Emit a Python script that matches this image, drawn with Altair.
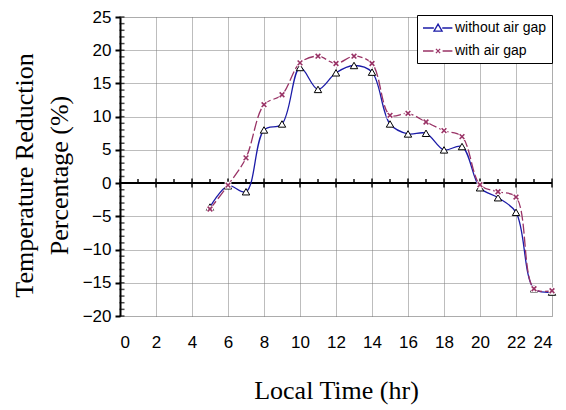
import altair as alt
import pandas as pd

hours = list(range(5, 25))
without_gap = [-3.6, -0.4, -1.3, 8.0, 8.9, 17.4, 14.1, 16.6, 17.7, 16.7, 8.9, 7.4, 7.5, 5.0, 5.5, -0.7, -2.2, -4.4, -15.9, -16.4]
with_gap = [-3.9, -0.3, 3.8, 11.8, 13.3, 18.1, 19.1, 18.0, 19.1, 18.0, 10.2, 10.5, 9.2, 7.9, 7.0, -0.25, -1.3, -2.1, -15.9, -16.2]
series_names = ["without air gap", "with air gap"]
series_colors = ["#1c1ca8", "#993366"]
x_ticks = list(range(0, 25, 2))
x_minor = list(range(1, 24, 2))
y_ticks = list(range(-20, 26, 5))
y_minor = list(range(-20, 26, 1))

rows = []
for h, a, b in zip(hours, without_gap, with_gap):
    rows.append({"hour": h, "value": a, "series": series_names[0], "order": 0})
    rows.append({"hour": h, "value": b, "series": series_names[1], "order": 1})
df = pd.DataFrame(rows)
df_blue = df[df["series"] == series_names[0]]
df_purple = df[df["series"] == series_names[1]]

xs = alt.Scale(domain=[0, 24], nice=False, zero=False)
ys = alt.Scale(domain=[-20, 25], nice=False, zero=False)

x_axis = alt.Axis(values=x_ticks, grid=True, gridColor="#7a7a7a", gridDash=[1, 1], gridWidth=1,
                  domain=False, ticks=False, labelFont="Liberation Sans", labelFontSize=17,
                  labelColor="black", labelPadding=18, title="Local Time (hr)",
                  titleFont="Liberation Serif", titleFontSize=26, titleFontWeight="normal",
                  titleColor="black", titlePadding=27)
y_axis = alt.Axis(values=y_ticks, grid=True, gridColor="#7a7a7a", gridDash=[1, 1], gridWidth=1,
                  domain=True, domainColor="black", domainWidth=2, ticks=True, tickSize=5,
                  tickColor="black", tickWidth=2, labelFont="Liberation Sans", labelFontSize=17,
                  labelColor="black", labelPadding=4,
                  title=["Temperature Reduction", "Percentage (%)"],
                  titleFont="Liberation Serif", titleFontSize=26, titleFontWeight="normal",
                  titleColor="black", titleLineHeight=35, titlePadding=10, titleY=158)

X = alt.X("hour:Q", scale=xs, axis=x_axis)
Y = alt.Y("value:Q", scale=ys, axis=y_axis)

blue_path = "M-1,0L0.55,0M1.75,0L3.2,0M0.57,0.45L1.15,-0.55L1.73,0.45Z"
purple_path = "M-1,0L0.5,0M1.8,0L3.2,0M0.85,-0.3L1.45,0.3M0.85,0.3L1.45,-0.3"
sym_expr = "datum.value == 'without air gap' ? '%s' : '%s'" % (blue_path, purple_path)

legend = alt.Legend(title=None, orient="none", legendX=297, legendY=-2, fillColor="white",
                    strokeColor="black", padding=5, labelFont="Liberation Sans",
                    labelFontSize=14, labelColor="black", symbolSize=196,
                    symbolType=alt.ExprRef(expr=sym_expr), symbolStrokeWidth=1.3,
                    symbolFillColor="white", labelOffset=17, rowPadding=8)

color = alt.Color("series:N", scale=alt.Scale(domain=series_names, range=series_colors), legend=legend)

zero_rule = alt.Chart(pd.DataFrame({"value": [0]})).mark_rule(color="black", strokeWidth=2).encode(y=Y)

df_xmaj = pd.DataFrame({"hour": x_ticks, "value": [0] * len(x_ticks)})
df_xmin = pd.DataFrame({"hour": x_minor, "value": [0] * len(x_minor)})
df_ymin = pd.DataFrame({"hour": [0] * len(y_minor), "value": y_minor})

xmaj = alt.Chart(df_xmaj).mark_tick(orient="vertical", size=9, thickness=2, color="black").encode(x=X, y=Y)
xmin = alt.Chart(df_xmin).mark_tick(orient="vertical", size=4, thickness=2, color="black", yOffset=-2).encode(x=X, y=Y)
ymin = alt.Chart(df_ymin).mark_tick(orient="horizontal", size=5, thickness=1.5, color="black", xOffset=2).encode(x=X, y=Y)

blue_line = alt.Chart(df_blue).mark_line(interpolate="catmull-rom", strokeWidth=1.3).encode(
    x=X, y=Y, color=color, order="hour:Q")
purple_line = alt.Chart(df_purple).mark_line(interpolate="catmull-rom", strokeWidth=1.3, strokeDash=[10, 3]).encode(
    x=X, y=Y, color=color, order="hour:Q")

blue_pts = alt.Chart(df_blue).mark_point(shape="triangle-up", size=55, filled=True, fill="white",
                                         stroke="black", strokeWidth=1, opacity=1).encode(x=X, y=Y)
purple_bg = alt.Chart(df_purple).mark_point(shape="square", size=45, filled=True, fill="white",
                                            strokeWidth=0, opacity=1).encode(x=X, y=Y)
purple_pts = alt.Chart(df_purple).mark_point(shape="M-1,-1L1,1M-1,1L1,-1", size=22, filled=False,
                                             stroke="#993366", strokeWidth=1.6, opacity=1).encode(x=X, y=Y)

chart = alt.layer(
    zero_rule, xmaj, xmin, ymin, blue_line, blue_pts, purple_line, purple_bg, purple_pts
).properties(
    width=432, height=299,
    autosize=alt.AutoSizeParams(type="none"),
    padding={"left": 112, "top": 9, "right": 6, "bottom": 94},
).configure_view(stroke="black", strokeWidth=1.5).configure(background="white")

chart.save("out.html", embed_options={"renderer": "svg", "actions": False})
